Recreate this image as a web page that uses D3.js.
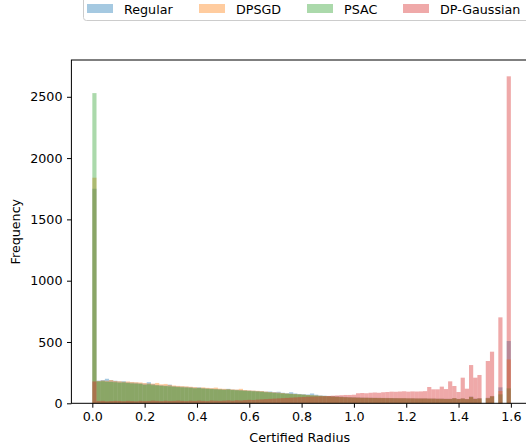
<!DOCTYPE html>
<html><head><meta charset="utf-8">
<script src="https://cdn.jsdelivr.net/npm/d3@7"></script>
<style>body{margin:0;background:#fff}svg{display:block}text{font-family:"DejaVu Sans",sans-serif;fill:#000}</style>
</head><body><div id="chart"></div>
<script>
const seriesNames = ["Regular", "DPSGD", "PSAC", "DP-Gaussian"];
const seriesColors = ["#1f77b4", "#ff7f0e", "#2ca02c", "#d62728"];
const binStart = 0, binWidth = 0.016, binCount = 100;
const xTicks = [0, 0.2, 0.4, 0.6, 0.8, 1.0, 1.2, 1.4, 1.6];
const yTicks = [0, 500, 1000, 1500, 2000, 2500];

const regular = [1750,
 185,190,200,188,184,178,180,172,170,168,
 164,160,172,158,150,148,145,152,140,138,
 136,134,132,128,130,124,122,120,118,116,
 114,118,112,110,108,106,104,102,100,98,
 95,96,92,94,86,82,90,80,76,74,
 72,80,70,64,62,60,58,56,54,52,
 50,49,48,47,46,46,45,45,44,44,
 43,43,42,42,41,41,40,40,40,39,
 39,38,38,37,37,42,36,40,35,55,
 38,42,0,45,60,0,130,0,508];
const dpsgd = [1840,
 182,186,184,190,182,180,176,178,174,172,
 170,165,162,160,166,155,158,150,145,142,
 140,138,135,132,128,130,126,124,128,120,
 118,116,114,112,118,108,106,104,102,100,
 96,92,90,88,84,80,78,76,73,71,
 68,66,64,62,60,58,56,54,52,50,
 48,47,46,45,45,44,44,43,43,42,
 42,41,41,41,40,40,39,39,39,38,
 38,37,37,36,36,41,35,39,34,52,
 36,40,0,42,58,0,100,0,358];
const psac = [2530,
 178,180,176,174,172,168,170,165,162,160,
 158,150,155,148,146,142,140,138,135,132,
 130,128,126,122,124,120,118,116,114,112,
 110,112,108,106,104,102,100,98,96,94,
 90,88,84,82,80,78,76,74,72,70,
 66,64,62,60,58,56,54,52,50,48,
 47,46,45,44,44,43,43,42,42,41,
 41,40,40,40,39,39,38,38,38,37,
 37,36,36,35,35,40,34,38,33,50,
 35,38,0,40,55,0,73,0,122];
const dpGaussian = [178,
 18,20,16,18,20,19,17,20,18,16,
 20,18,19,22,20,18,21,19,20,22,
 20,18,21,19,22,20,18,23,21,20,
 22,24,21,25,23,26,28,27,30,32,
 34,36,38,40,42,44,46,48,50,52,
 54,55,56,57,58,60,62,64,66,68,
 68,70,82,84,82,86,88,86,90,92,
 95,94,96,98,95,97,96,97,99,133,
 114,114,136,116,179,141,92,209,119,312,
 209,231,0,345,421,0,701,0,2667];
const allSeries = [regular, dpsgd, psac, dpGaussian];

const W = 526, H = 448;
const m = {left: 71.4, top: 60, right: 531.8, bottom: 403.3};
const svg = d3.select("#chart").append("svg").attr("width", W).attr("height", H);
const x = d3.scaleLinear().domain([-0.08, 1.68]).range([m.left, m.right]);
const y = d3.scaleLinear().domain([0, 2800]).range([m.bottom, m.top]);

allSeries.forEach((vals, si) => {
  svg.append("g").selectAll("rect").data(vals).join("rect")
    .attr("x", (d, i) => x(binStart + i * binWidth))
    .attr("width", (d, i) => x(binStart + (i + 1) * binWidth) - x(binStart + i * binWidth))
    .attr("y", d => y(d))
    .attr("height", d => y(0) - y(d))
    .attr("fill", seriesColors[si]).attr("fill-opacity", 0.4);
});

const fs = 12.7;
const xAxis = svg.append("g").attr("transform", `translate(0,${m.bottom})`)
  .call(d3.axisBottom(x).tickValues(xTicks).tickFormat(d3.format(".1f")).tickSizeOuter(0).tickSize(4.4).tickPadding(4));
const yAxis = svg.append("g").attr("transform", `translate(${m.left},0)`)
  .call(d3.axisLeft(y).tickValues(yTicks).tickFormat(d3.format("d")).tickSizeOuter(0).tickSize(4.4).tickPadding(4.5));
[xAxis, yAxis].forEach(a => {
  a.selectAll("text").attr("font-size", fs).attr("font-family", "DejaVu Sans").attr("fill", "#000");
  a.selectAll("line").attr("stroke", "#000").attr("stroke-width", 1);
  a.select(".domain").remove();
});
// spines
svg.append("rect").attr("x", m.left).attr("y", m.top).attr("width", m.right - m.left).attr("height", m.bottom - m.top)
  .attr("fill", "none").attr("stroke", "#000").attr("stroke-width", 1);

svg.append("text").attr("x", (m.left + 526) / 2 + 1).attr("y", 441.5).attr("text-anchor", "middle")
  .attr("font-size", fs).text("Certified Radius");
svg.append("text").attr("transform", `translate(20,${(m.top + m.bottom) / 2}) rotate(-90)`)
  .attr("text-anchor", "middle").attr("font-size", fs).text("Frequency");

// legend
const lg = svg.append("g");
lg.append("rect").attr("x", 83.5).attr("y", -4).attr("width", 470).attr("height", 24.5).attr("rx", 3)
  .attr("fill", "#fff").attr("fill-opacity", 0.8).attr("stroke", "#ccc").attr("stroke-width", 1);
const legX = [87, 199, 307, 403];
seriesNames.forEach((n, i) => {
  lg.append("rect").attr("x", legX[i]).attr("y", 4).attr("width", 26).attr("height", 9)
    .attr("fill", seriesColors[i]).attr("fill-opacity", 0.4);
  lg.append("text").attr("x", legX[i] + 37).attr("y", 13.5).attr("font-size", fs).text(n);
});
</script></body></html>
